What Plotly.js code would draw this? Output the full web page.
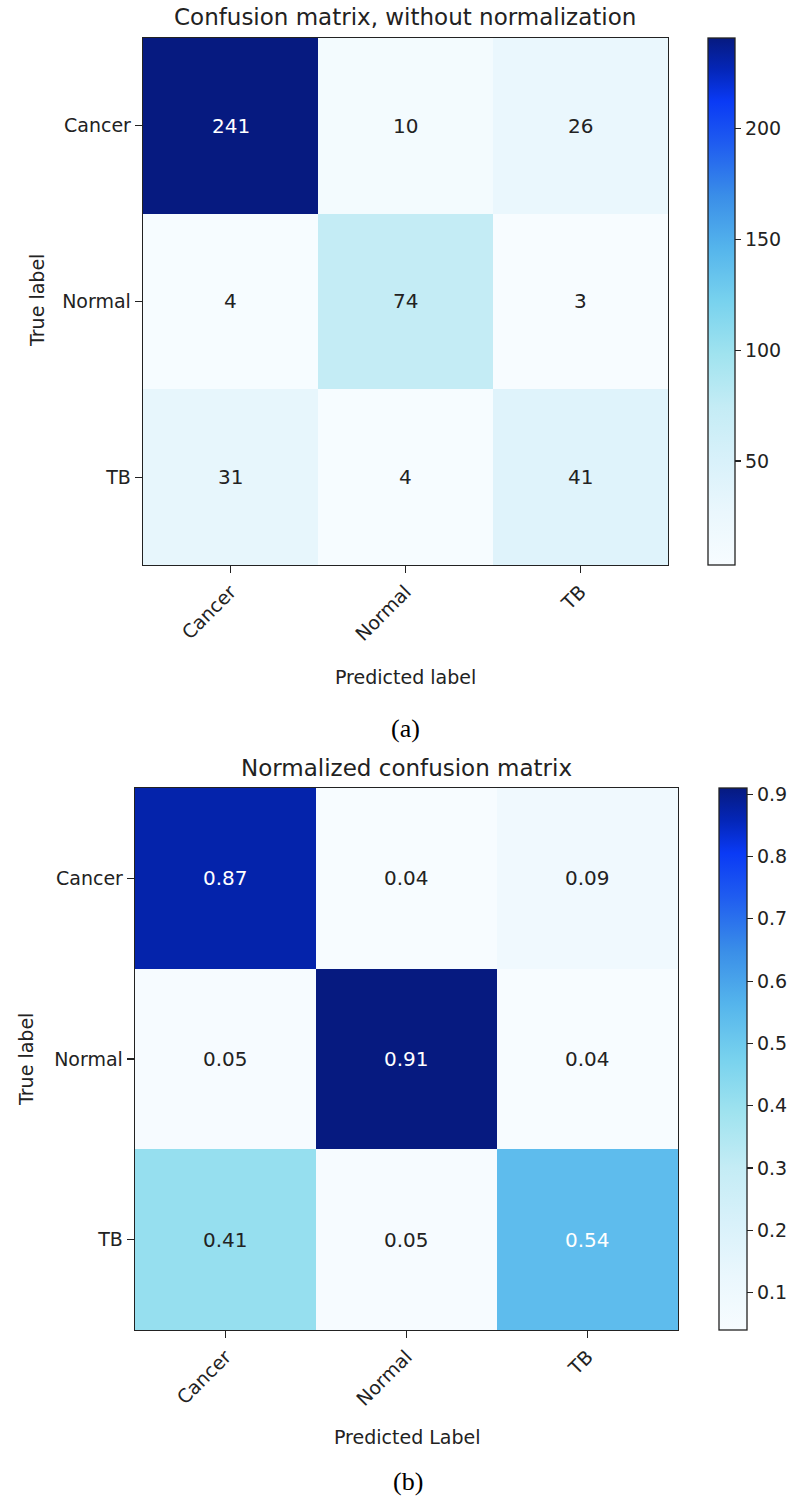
<!DOCTYPE html>
<html>
<head>
<meta charset="utf-8">
<script src="https://cdn.plot.ly/plotly-3.0.1.min.js"></script>
<style>html,body{margin:0;padding:0;background:#fff;}</style>
</head>
<body>
<div id="chart" style="width:810px;height:1504px;"></div>
<script>
const classes = ['Cancer', 'Normal', 'TB'];
const countsMatrix = [
  [241, 10, 26],
  [4, 74, 3],
  [31, 4, 41]
];
const normMatrix = [
  [0.87, 0.04, 0.09],
  [0.05, 0.91, 0.04],
  [0.41, 0.05, 0.54]
];
const countTicks = [50, 100, 150, 200];
const normTicks = [0.1, 0.2, 0.3, 0.4, 0.5, 0.6, 0.7, 0.8, 0.9];

const blues = [
  [0.0, '#f7fcff'],
  [0.1, '#eaf7fd'],
  [0.2, '#d8f1fa'],
  [0.3, '#c4ecf5'],
  [0.4, '#a0e3ef'],
  [0.5, '#78d2ee'],
  [0.6, '#55b5ec'],
  [0.7, '#3a8ee8'],
  [0.8, '#1f5cf0'],
  [0.88, '#0a3af5'],
  [0.94, '#0426b8'],
  [1.0, '#061a80']
];

const W = 810, H = 1504;
const FONT = 'DejaVu Sans, sans-serif';
const SERIF = 'Liberation Serif, Times New Roman, serif';
function px(x) { return x / W; }
function py(y) { return 1 - y / H; }

const boxTop = {x0: 143, x1: 668, y0: 38, y1: 565, cb: 708, cbw: 27};
const boxBot = {x0: 135, x1: 678, y0: 788, y1: 1330, cb: 719, cbw: 28};

function zRange(m) {
  const flat = m.flat();
  return [Math.min(...flat), Math.max(...flat)];
}

function heat(m, xa, ya, box, ticks, fmt) {
  const [zmin, zmax] = zRange(m);
  return {
    type: 'heatmap', z: m, x: classes, y: classes,
    xaxis: xa, yaxis: ya, zmin: zmin, zmax: zmax,
    colorscale: blues, hoverinfo: 'skip',
    colorbar: {
      x: px(box.cb), xanchor: 'left', xref: 'paper',
      y: py(box.y0), yanchor: 'top', yref: 'paper',
      len: box.y1 - box.y0, lenmode: 'pixels',
      thickness: box.cbw, thicknessmode: 'pixels',
      xpad: 0, ypad: 0,
      outlinewidth: 1.3, outlinecolor: '#222',
      tickmode: 'array', tickvals: ticks, ticktext: ticks.map(fmt),
      ticks: 'outside', ticklen: 6, tickcolor: '#222', tickwidth: 1.2,
      tickfont: {family: FONT, size: 19, color: '#222'}
    }
  };
}

const data = [
  heat(countsMatrix, 'x', 'y', boxTop, countTicks, v => String(v)),
  heat(normMatrix, 'x2', 'y2', boxBot, normTicks, v => v.toFixed(1))
];

function axisX(box, anchor) {
  return {
    domain: [px(box.x0), px(box.x1)], anchor: anchor,
    type: 'category', showgrid: false, zeroline: false,
    showline: true, mirror: true, linecolor: '#222', linewidth: 1.3,
    ticks: 'outside', ticklen: 7, tickcolor: '#222', tickwidth: 1.3,
    tickangle: -45, tickfont: {family: FONT, size: 19, color: '#222'},
    fixedrange: true
  };
}
function axisY(box, anchor) {
  return {
    domain: [py(box.y1), py(box.y0)], anchor: anchor,
    type: 'category', autorange: 'reversed', showgrid: false, zeroline: false,
    showline: true, mirror: true, linecolor: '#222', linewidth: 1.3,
    ticks: 'outside', ticklen: 7, tickcolor: '#222', tickwidth: 1.3,
    tickfont: {family: FONT, size: 19, color: '#222'},
    fixedrange: true
  };
}

const annotations = [];
function cellText(m, xr, yr, fmt) {
  const [zmin, zmax] = zRange(m);
  const thresh = zmax / 2;
  m.forEach((row, i) => row.forEach((v, j) => {
    annotations.push({
      x: classes[j], y: classes[i], xref: xr, yref: yr,
      text: fmt(v), showarrow: false,
      font: {family: FONT, size: 20, color: v > thresh ? '#ffffff' : '#222222'}
    });
  }));
}
cellText(countsMatrix, 'x', 'y', v => String(v));
cellText(normMatrix, 'x2', 'y2', v => v.toFixed(2));

function label(text, x, y, opts) {
  annotations.push(Object.assign({
    text: text, x: px(x), y: py(y), xref: 'paper', yref: 'paper',
    showarrow: false, xanchor: 'center', yanchor: 'middle',
    font: {family: FONT, size: 19, color: '#222'}
  }, opts || {}));
}
label('Confusion matrix, without normalization', 405, 17, {font: {family: FONT, size: 23, color: '#222'}});
label('True label', 37, 301, {textangle: -90});
label('Predicted label', 405, 677);
label('(a)', 405, 728, {font: {family: SERIF, size: 26, color: '#000'}});
label('Normalized confusion matrix', 406, 768, {font: {family: FONT, size: 23, color: '#222'}});
label('True label', 26, 1060, {textangle: -90});
label('Predicted Label', 408, 1437);
label('(b)', 408, 1481, {font: {family: SERIF, size: 26, color: '#000'}});

const layout = {
  width: W, height: H,
  margin: {l: 0, r: 0, t: 0, b: 0},
  paper_bgcolor: '#ffffff', plot_bgcolor: '#ffffff',
  showlegend: false,
  xaxis: axisX(boxTop, 'y'), yaxis: axisY(boxTop, 'x'),
  xaxis2: axisX(boxBot, 'y2'), yaxis2: axisY(boxBot, 'x2'),
  annotations: annotations
};

Plotly.newPlot('chart', data, layout, {staticPlot: true, displayModeBar: false});
</script>
</body>
</html>
